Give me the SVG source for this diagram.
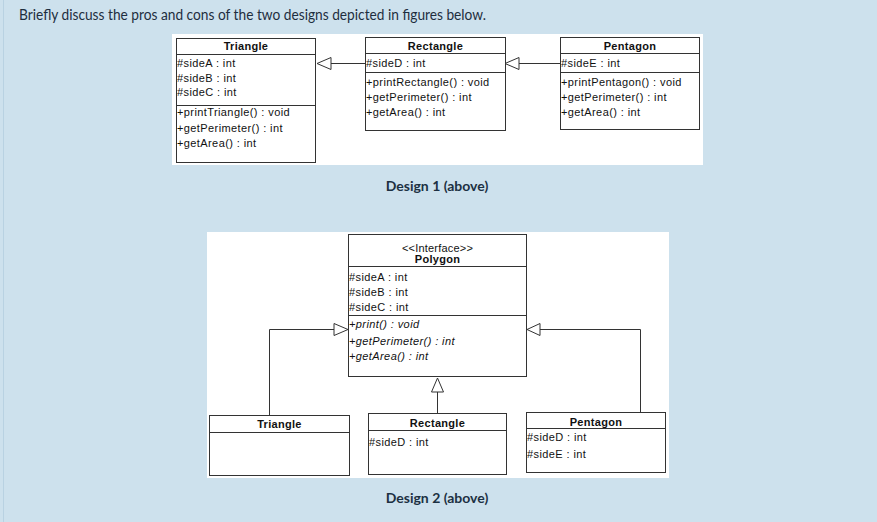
<svg xmlns="http://www.w3.org/2000/svg" width="877" height="522" viewBox="0 0 877 522">
<style>
.box{fill:#fff;stroke:#333;stroke-width:1}
.ln{stroke:#333;stroke-width:1;fill:none}
.arr{fill:#fff;stroke:#333;stroke-width:1}
.t{font-family:"Liberation Sans",Arial,sans-serif;font-size:11px;letter-spacing:0.4px;fill:#111}
.h{font-family:"Liberation Sans",Arial,sans-serif;font-size:11px;font-weight:bold;letter-spacing:0.3px;fill:#111;text-anchor:middle}
.i{font-style:italic}
.cap{font-family:"Lato","Open Sans",sans-serif;font-size:14px;font-weight:bold;fill:#1c3042;text-anchor:middle}
</style>
<rect x="0" y="0" width="877" height="522" fill="#cde1ed"/>
<line x1="3.5" y1="0" x2="3.5" y2="522" stroke="#b9d2e2" stroke-width="1"/>
<text x="19" y="20" font-family="Lato,'Open Sans',sans-serif" font-size="14.5" fill="#1e2e3e" textLength="467" lengthAdjust="spacingAndGlyphs">Briefly discuss the pros and cons of the two designs depicted in figures below.</text>

<rect x="172" y="34" width="531" height="131" fill="#fff"/>
<rect x="207" y="232" width="462" height="246" fill="#fff"/>

<g id="connectors">
  <line class="ln" x1="331" y1="63.5" x2="365" y2="63.5"/>
  <polygon class="arr" points="317,63.5 331,57.5 331,69.5"/>
  <line class="ln" x1="519" y1="63.5" x2="560" y2="63.5"/>
  <polygon class="arr" points="505,63.5 519,57.5 519,69.5"/>
  <path class="ln" d="M269.5,416 V329.5 H334"/>
  <polygon class="arr" points="348,329.5 334,323.5 334,335.5"/>
  <path class="ln" d="M640.5,412 V329.5 H540"/>
  <polygon class="arr" points="527,329.5 540,323.5 540,335.5"/>
  <line class="ln" x1="437.5" y1="413" x2="437.5" y2="392"/>
  <polygon class="arr" points="437.5,378 431.5,392 443.5,392"/>
</g>

<g id="d1-triangle">
  <rect class="box" x="176.5" y="38.5" width="139" height="124"/>
  <line class="ln" x1="176.5" y1="54.5" x2="315.5" y2="54.5"/>
  <line class="ln" x1="176.5" y1="105.5" x2="315.5" y2="105.5"/>
  <text class="h" x="246" y="50">Triangle</text>
  <text class="t" x="177" y="67">#sideA : int</text>
  <text class="t" x="177" y="82">#sideB : int</text>
  <text class="t" x="177" y="96">#sideC : int</text>
  <text class="t" x="177" y="116">+printTriangle() : void</text>
  <text class="t" x="177" y="132">+getPerimeter() : int</text>
  <text class="t" x="177" y="147">+getArea() : int</text>
</g>

<g id="d1-rectangle">
  <rect class="box" x="365.5" y="37.5" width="140" height="93"/>
  <line class="ln" x1="365.5" y1="53.5" x2="505.5" y2="53.5"/>
  <line class="ln" x1="365.5" y1="72.5" x2="505.5" y2="72.5"/>
  <text class="h" x="435.5" y="50">Rectangle</text>
  <text class="t" x="366" y="67">#sideD : int</text>
  <text class="t" x="366" y="86">+printRectangle() : void</text>
  <text class="t" x="366" y="101">+getPerimeter() : int</text>
  <text class="t" x="366" y="116">+getArea() : int</text>
</g>

<g id="d1-pentagon">
  <rect class="box" x="560.5" y="37.5" width="139" height="92"/>
  <line class="ln" x1="560.5" y1="53.5" x2="699.5" y2="53.5"/>
  <line class="ln" x1="560.5" y1="72.5" x2="699.5" y2="72.5"/>
  <text class="h" x="630" y="50">Pentagon</text>
  <text class="t" x="561" y="67">#sideE : int</text>
  <text class="t" x="561" y="86">+printPentagon() : void</text>
  <text class="t" x="561" y="101">+getPerimeter() : int</text>
  <text class="t" x="561" y="116">+getArea() : int</text>
</g>

<text class="cap" x="437" y="191">Design 1 (above)</text>

<g id="d2-polygon">
  <rect class="box" x="348.5" y="234.5" width="178" height="142"/>
  <line class="ln" x1="348.5" y1="266.5" x2="526.5" y2="266.5"/>
  <line class="ln" x1="348.5" y1="315.5" x2="526.5" y2="315.5"/>
  <text class="t" x="437.5" y="252" text-anchor="middle" style="letter-spacing:0.2px">&lt;&lt;Interface&gt;&gt;</text>
  <text class="h" x="437.5" y="263">Polygon</text>
  <text class="t" x="349" y="281">#sideA : int</text>
  <text class="t" x="349" y="296">#sideB : int</text>
  <text class="t" x="349" y="311">#sideC : int</text>
  <text class="t i" x="349" y="328">+print() : void</text>
  <text class="t i" x="349" y="345">+getPerimeter() : int</text>
  <text class="t i" x="349" y="360">+getArea() : int</text>
</g>

<g id="d2-triangle">
  <rect class="box" x="209.5" y="415.5" width="140" height="60"/>
  <line class="ln" x1="209.5" y1="432.5" x2="349.5" y2="432.5"/>
  <text class="h" x="279.5" y="428">Triangle</text>
</g>

<g id="d2-rectangle">
  <rect class="box" x="368.5" y="413.5" width="138" height="61"/>
  <line class="ln" x1="368.5" y1="430.5" x2="506.5" y2="430.5"/>
  <text class="h" x="437.5" y="427">Rectangle</text>
  <text class="t" x="369" y="446">#sideD : int</text>
</g>

<g id="d2-pentagon">
  <rect class="box" x="526.5" y="412.5" width="139" height="60"/>
  <line class="ln" x1="526.5" y1="428.5" x2="665.5" y2="428.5"/>
  <text class="h" x="596" y="426">Pentagon</text>
  <text class="t" x="527" y="441">#sideD : int</text>
  <text class="t" x="527" y="458">#sideE : int</text>
</g>

<text class="cap" x="437" y="503">Design 2 (above)</text>
</svg>
